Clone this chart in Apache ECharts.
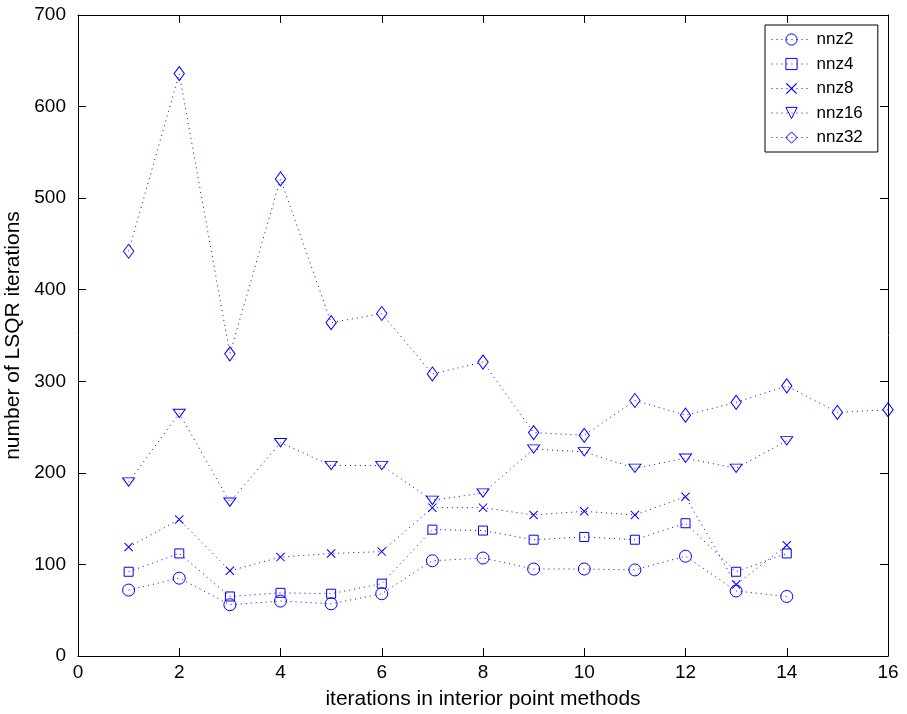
<!DOCTYPE html>
<html>
<head>
<meta charset="utf-8">
<script src="https://cdn.jsdelivr.net/npm/echarts@6/dist/echarts.min.js"></script>
<style>
html,body{margin:0;padding:0;background:#fff;}
#chart{width:907px;height:714px;}
</style>
</head>
<body>
<div id="chart"></div>
<script>
const iterations = [1,2,3,4,5,6,7,8,9,10,11,12,13,14,15,16];
const nnz2  = [72, 85, 56, 60, 57, 68, 104, 107, 95, 95, 94, 109, 71, 65];
const nnz4  = [92, 112, 65, 69, 68, 79, 138, 137, 127, 130, 127, 145, 92, 112];
const nnz8  = [119, 149, 93, 108, 112, 114, 162, 162, 154, 158, 154, 174, 78, 121];
const nnz16 = [190, 265, 168, 233, 208, 208, 170, 178, 226, 223, 205, 216, 205, 235];
const nnz32 = [442, 636, 330, 521, 364, 374, 308, 321, 244, 241, 279, 263, 277, 295, 266, 269];
const seriesNames = ['nnz2','nnz4','nnz8','nnz16','nnz32'];
const xTicks = [0,2,4,6,8,10,12,14,16];
const yTicks = [0,100,200,300,400,500,600,700];

const BLUE = '#0000ff';
const FONT = 'Liberation Sans, Arial, Helvetica, sans-serif';
const symbols = {
  nnz2: {symbol: 'circle', size: 12, fill: 'none', bw: 1},
  nnz4: {symbol: 'rect', size: 9, fill: 'none', bw: 1},
  nnz8: {symbol: 'path://M0,0.8L0.8,0L10,9.2L9.2,10Z M9.2,0L10,0.8L0.8,10L0,9.2Z', size: 9, fill: BLUE, bw: 0},
  nnz16: {symbol: 'path://M0,0L12,0L6,10Z', size: [12,10], fill: 'none', bw: 1},
  nnz32: {symbol: 'path://M6,0L12,7L6,14L0,7Z', size: [12,14], fill: 'none', bw: 1}
};
const allVals = {nnz2, nnz4, nnz8, nnz16, nnz32};

const series = seriesNames.map(name => ({
  name: name,
  type: 'line',
  data: allVals[name].map((v, i) => [iterations[i], v]),
  symbol: symbols[name].symbol,
  symbolSize: symbols[name].size,
  symbolKeepAspect: true,
  showAllSymbol: true,
  lineStyle: {color: BLUE, width: 1, type: [1, 4]},
  itemStyle: {color: symbols[name].fill, borderColor: BLUE, borderWidth: symbols[name].bw},
  emphasis: {disabled: true},
  animation: false
}));

const chart = echarts.init(document.getElementById('chart'), null, {renderer: 'canvas'});
const axisCommon = {
  type: 'value',
  axisLine: {show: true, onZero: false, lineStyle: {color: '#000', width: 1}},
  axisTick: {show: true, inside: true, length: 8, lineStyle: {color: '#000'}},
  splitLine: {show: false}
};
chart.setOption({
  backgroundColor: '#fff',
  animation: false,
  grid: {left: 78, right: 19, top: 15, bottom: 58, containLabel: false, outerBoundsMode: 'none'},
  legend: {
    orient: 'vertical',
    left: 765, top: 25,
    padding: [6, 15, 6, 6],
    itemGap: 7.5,
    itemWidth: 40, itemHeight: 14,
    backgroundColor: '#fff',
    borderColor: '#000', borderWidth: 1,
    lineStyle: {width: 1},
    textStyle: {fontFamily: FONT, fontSize: 17, color: '#000'},
    data: seriesNames.map(n => ({
      name: n,
      itemStyle: {borderWidth: symbols[n].bw, borderColor: BLUE, color: symbols[n].fill}
    }))
  },
  xAxis: [
    Object.assign({}, axisCommon, {
      min: 0, max: 16, interval: 2, position: 'bottom',
      name: 'iterations in interior point methods',
      nameLocation: 'middle', nameGap: 33,
      nameTextStyle: {fontFamily: FONT, fontSize: 21, color: '#000'},
      axisLabel: {fontFamily: FONT, fontSize: 19, color: '#000', margin: 7,
        formatter: v => xTicks.includes(v) ? String(v) : ''}
    }),
    Object.assign({}, axisCommon, {
      min: 0, max: 16, interval: 2, position: 'top',
      axisLabel: {show: false}
    })
  ],
  yAxis: [
    Object.assign({}, axisCommon, {
      min: 0, max: 700, interval: 100, position: 'left',
      name: 'number of LSQR iterations',
      nameLocation: 'middle', nameGap: 46,
      nameTextStyle: {fontFamily: FONT, fontSize: 21, color: '#000'},
      axisLabel: {fontFamily: FONT, fontSize: 19, color: '#000', margin: 12,
        formatter: v => yTicks.includes(v) ? String(v) : ''}
    }),
    Object.assign({}, axisCommon, {
      min: 0, max: 700, interval: 100, position: 'right',
      axisLabel: {show: false}
    })
  ],
  series: series
});
</script>
</body>
</html>
